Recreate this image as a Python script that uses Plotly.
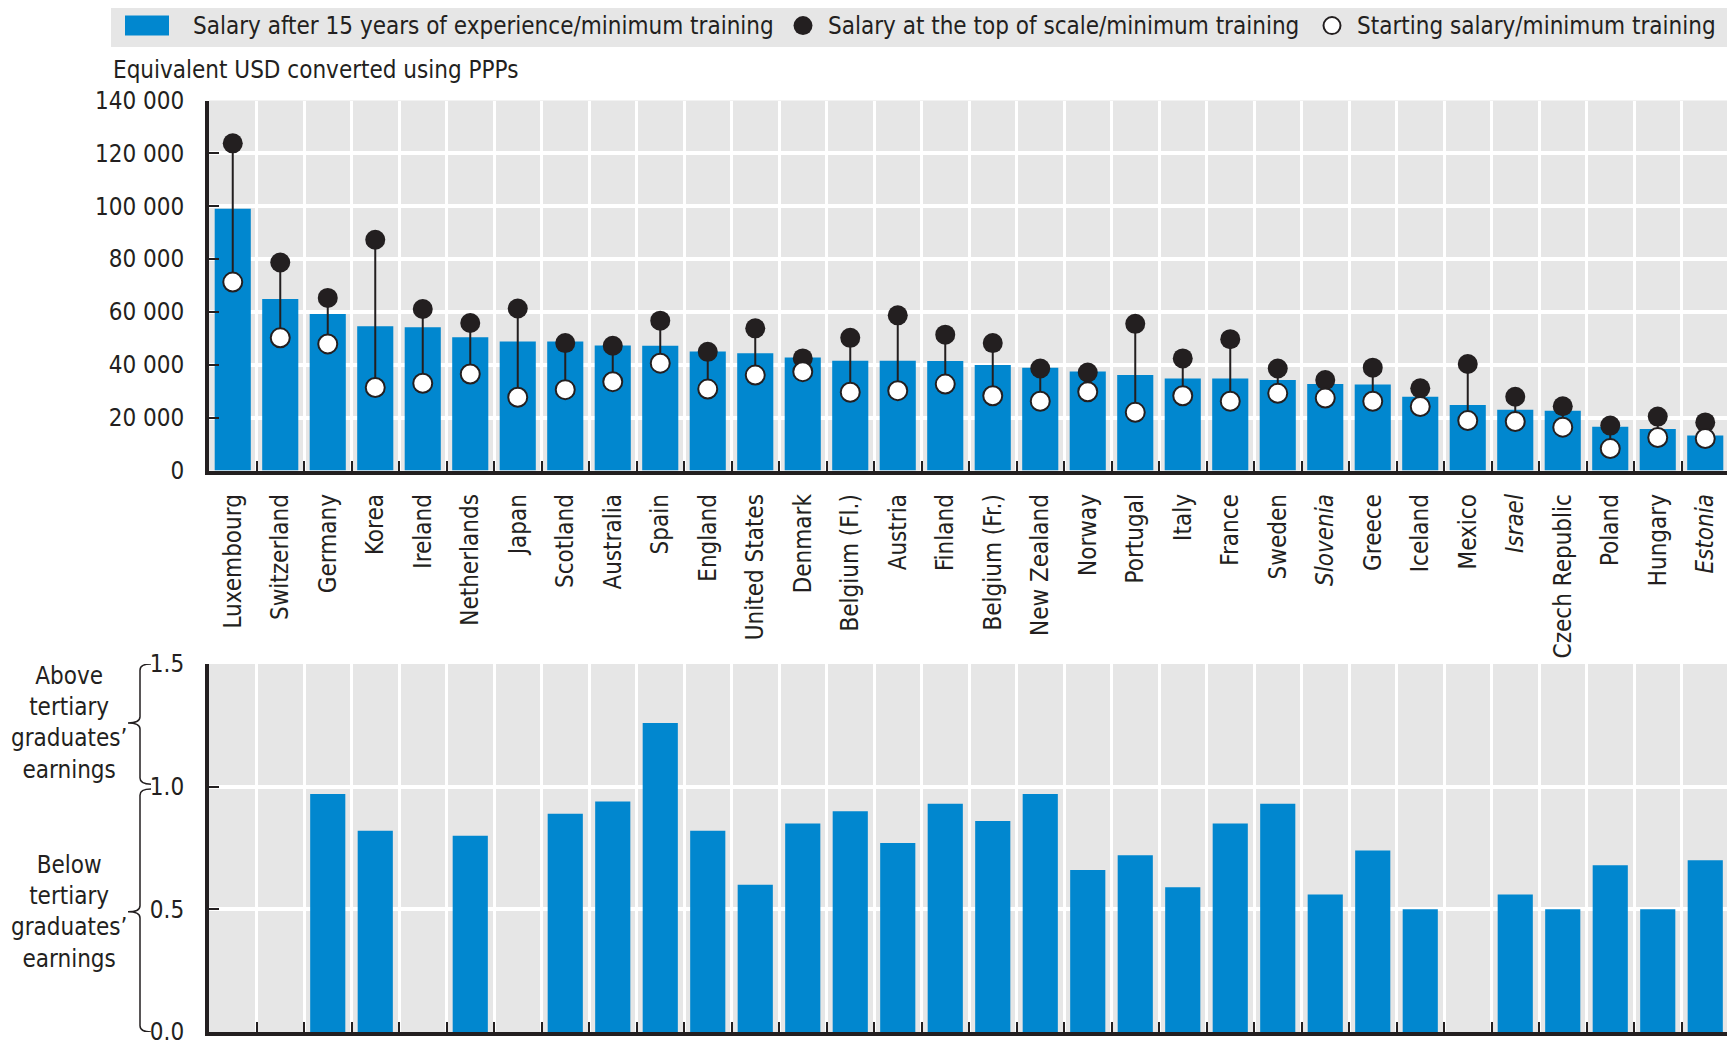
import plotly.graph_objects as go

countries = ["Luxembourg", "Switzerland", "Germany", "Korea", "Ireland", "Netherlands",
             "Japan", "Scotland", "Australia", "Spain", "England", "United States",
             "Denmark", "Belgium (Fl.)", "Austria", "Finland", "Belgium (Fr.)",
             "New Zealand", "Norway", "Portugal", "Italy", "France", "Sweden",
             "Slovenia", "Greece", "Iceland", "Mexico", "Israel", "Czech Republic",
             "Poland", "Hungary", "Estonia"]
italic_countries = ["Slovenia", "Israel", "Estonia"]

salary_15y = [99000, 64900, 59200, 54600, 54200, 50400, 48800, 48800, 47300, 47200,
              45000, 44400, 42800, 41500, 41500, 41400, 39900, 38900, 37500, 36100,
              34800, 34800, 34200, 32700, 32500, 27900, 24800, 23000, 22600, 16600,
              15700, 13200]
salary_top = [123800, 78700, 65300, 87300, 61100, 55800, 61300, 48200, 47200, 56700,
              44900, 53800, 42400, 50200, 58700, 51400, 48200, 38600, 37100, 55500,
              42400, 49700, 38600, 34200, 38900, 31100, 40300, 27900, 24300, 17000,
              20400, 18200]
salary_start = [71300, 50200, 47900, 31400, 33000, 36500, 27700, 30600, 33600, 40600,
                30800, 36100, 37400, 29600, 30200, 32700, 28300, 26200, 29800, 22000,
                28300, 26200, 29200, 27400, 26200, 24200, 18900, 18500, 16400, 8300,
                12500, 12100]
ratio_to_tertiary = [None, None, 0.97, 0.82, None, 0.80, None, 0.89, 0.94, 1.26,
                     0.82, 0.60, 0.85, 0.90, 0.77, 0.93, 0.86, 0.97, 0.66, 0.72,
                     0.59, 0.85, 0.93, 0.56, 0.74, 0.50, None, 0.56, 0.50, 0.68,
                     0.50, 0.70]

salary_ticks = [0, 20000, 40000, 60000, 80000, 100000, 120000, 140000]
ratio_ticks = [0.0, 0.5, 1.0, 1.5]

name_15y = "Salary after 15 years of experience/minimum training"
name_top = "Salary at the top of scale/minimum training"
name_start = "Starting salary/minimum training"

BLUE = "#0187cf"
DARK = "#231f20"
GREY = "#e6e6e6"
FONT = "DejaVu Sans Condensed, Liberation Sans Narrow, Arial Narrow, sans-serif"
FS = 24
# the page body has an 8px margin: the figure starts at (8, 8) in the window
W, H = 1727, 1037

tick_labels = [f"<i>{c}</i>" if c in italic_countries else c for c in countries]

# connector lines start -> top
line_x, line_y = [], []
for c, s, t in zip(countries, salary_start, salary_top):
    line_x += [c, c, None]
    line_y += [s, t, None]

fig = go.Figure()
fig.add_trace(go.Bar(x=countries, y=salary_15y, name=name_15y, marker=dict(color=BLUE, line=dict(width=0)),
                     width=0.76, xaxis="x", yaxis="y"))
fig.add_trace(go.Scatter(x=line_x, y=line_y, mode="lines", line=dict(color=DARK, width=2),
                         hoverinfo="skip", xaxis="x", yaxis="y"))
fig.add_trace(go.Scatter(x=countries, y=salary_top, mode="markers", name=name_top,
                         marker=dict(color=DARK, size=20, line=dict(width=0)), xaxis="x", yaxis="y"))
fig.add_trace(go.Scatter(x=countries, y=salary_start, mode="markers", name=name_start,
                         marker=dict(color="white", size=19, line=dict(color=DARK, width=2)),
                         xaxis="x", yaxis="y"))
fig.add_trace(go.Bar(x=countries, y=ratio_to_tertiary, name="Ratio to tertiary graduates' earnings",
                     marker=dict(color=BLUE, line=dict(width=0)),
                     width=0.74, xaxis="x2", yaxis="y2"))

xd = [201 / W, 1721 / W]
top_dom = [1 - 462.5 / H, 1 - 92.5 / H]
bot_dom = [1 - 1024 / H, 1 - 656 / H]

common_x = dict(domain=xd, type="category", categoryorder="array", categoryarray=countries,
                range=[-0.5, len(countries) - 0.5], tickson="boundaries", ticks="inside",
                ticklen=10, tickwidth=1.5, tickcolor=DARK, showgrid=True, gridcolor="white",
                gridwidth=3, showline=True, linecolor=DARK, linewidth=4, zeroline=False,
                automargin=False, fixedrange=True)
common_y = dict(ticks="inside", ticklen=10, tickwidth=1.5, tickcolor=DARK, showgrid=True,
                gridcolor="white", gridwidth=4, showline=True, linecolor=DARK, linewidth=4,
                zeroline=False, automargin=False, tickfont=dict(size=FS, color=DARK, family=FONT),
                ticklabelstandoff=16, ticklabeloverflow="allow", fixedrange=True)

fig.update_layout(
    width=W, height=H,
    margin=dict(l=0, r=0, t=0, b=0),
    paper_bgcolor="white", plot_bgcolor=GREY,
    separators=". ",
    font=dict(family=FONT, size=FS, color=DARK),
    barmode="overlay",
    showlegend=False,
    xaxis=dict(**common_x, anchor="y", tickmode="array", tickvals=countries, ticktext=tick_labels,
               tickangle=-90, tickfont=dict(size=FS, color=DARK, family=FONT), ticklabelstandoff=10),
    yaxis=dict(**common_y, domain=top_dom, anchor="x", range=[0, 140000], tickvals=salary_ticks,
               tickformat=",d"),
    xaxis2=dict(**common_x, anchor="y2", showticklabels=False),
    yaxis2=dict(**common_y, domain=bot_dom, anchor="x2", range=[0, 1.5], tickvals=ratio_ticks,
                tickformat=".1f"),
)

# ---- legend (drawn as a key band across the top) ----
ly = 1 - 17.6 / H
fig.add_shape(type="rect", xref="paper", yref="paper", x0=103 / W, x1=1721 / W,
              y0=1 - 39 / H, y1=1.0, fillcolor=GREY, line=dict(width=0), layer="below")
fig.add_shape(type="rect", xref="paper", yref="paper", x0=117 / W, x1=161 / W,
              y0=1 - 27.6 / H, y1=1 - 7.6 / H, fillcolor=BLUE, line=dict(width=0))
fig.add_shape(type="circle", xref="paper", yref="paper", xsizemode="pixel", ysizemode="pixel",
              xanchor=795 / W, yanchor=ly, x0=-9.5, x1=9.5, y0=-9.5, y1=9.5,
              fillcolor=DARK, line=dict(width=0))
fig.add_shape(type="circle", xref="paper", yref="paper", xsizemode="pixel", ysizemode="pixel",
              xanchor=1324 / W, yanchor=ly, x0=-8.5, x1=8.5, y0=-8.5, y1=8.5,
              fillcolor="white", line=dict(color=DARK, width=2))
for txt, lx in [(name_15y, 183), (name_top, 818), (name_start, 1347)]:
    fig.add_annotation(text=txt, xref="paper", yref="paper", x=lx / W, y=ly,
                       xanchor="left", yanchor="middle", showarrow=False,
                       font=dict(size=FS, color=DARK, family=FONT))

fig.add_annotation(text="Equivalent USD converted using PPPs", xref="paper", yref="paper",
                   x=103 / W, y=1 - 62 / H, xanchor="left", yanchor="middle", showarrow=False,
                   font=dict(size=FS, color=DARK, family=FONT))
fig.add_annotation(text="Above<br>tertiary<br>graduates’<br>earnings", xref="paper", yref="y2",
                   x=61 / W, y=1.26, xanchor="center", yanchor="middle", showarrow=False,
                   align="center", font=dict(size=FS, color=DARK, family=FONT))
fig.add_annotation(text="Below<br>tertiary<br>graduates’<br>earnings", xref="paper", yref="y2",
                   x=61 / W, y=0.49, xanchor="center", yanchor="middle", showarrow=False,
                   align="center", font=dict(size=FS, color=DARK, family=FONT))

# braces
bx, hx, nx = 132 / W, 143 / W, 120 / W
def brace(y_top, y_bot, y_mid, r):
    return (f"M {hx},{y_top} Q {bx},{y_top} {bx},{y_top - r} L {bx},{y_mid + r} "
            f"Q {bx},{y_mid} {nx},{y_mid} Q {bx},{y_mid} {bx},{y_mid - r} "
            f"L {bx},{y_bot + r} Q {bx},{y_bot} {hx},{y_bot}")
fig.add_shape(type="path", xref="paper", yref="y2", path=brace(1.5, 1.01, 1.26, 0.025),
              line=dict(color=DARK, width=1.5))
fig.add_shape(type="path", xref="paper", yref="y2", path=brace(0.99, 0.0, 0.49, 0.025),
              line=dict(color=DARK, width=1.5))

fig.write_html("out.html")
